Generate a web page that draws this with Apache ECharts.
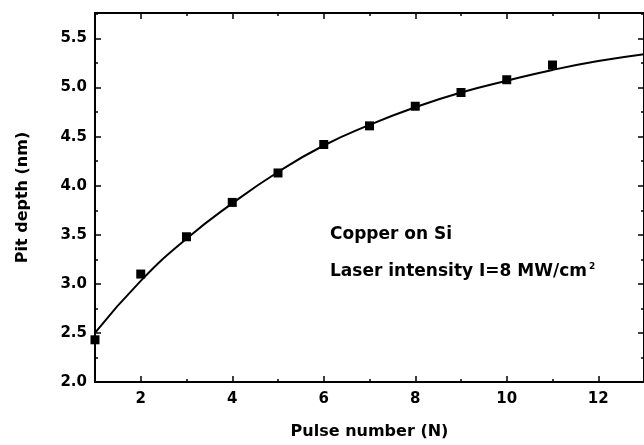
<!DOCTYPE html>
<html>
<head>
<meta charset="utf-8">
<script src="https://cdn.jsdelivr.net/npm/echarts@6/dist/echarts.min.js"></script>
<style>
  html, body { margin: 0; padding: 0; background: #fff; }
  #chart { width: 644px; height: 445px; }
</style>
</head>
<body>
<div id="chart"></div>
<script>
// measured points (pulse number vs pit depth)
var pulses = [1, 2, 3, 4, 5, 6, 7, 8, 9, 10, 11];
var depths = [2.43, 3.10, 3.48, 3.83, 4.13, 4.42, 4.61, 4.81, 4.95, 5.08, 5.23];

// fitted curve
var fitX = [1, 2, 3, 4, 5, 6, 7, 8, 9, 10, 11, 12, 13];
var fitY = [2.50, 3.03, 3.46, 3.82, 4.14, 4.41, 4.62, 4.80, 4.95, 5.07, 5.18, 5.27, 5.34];

var xMajor = [2, 4, 6, 8, 10, 12];
var xMinor = [1, 3, 5, 7, 9, 11, 13];
var yMajor = [2.0, 2.5, 3.0, 3.5, 4.0, 4.5, 5.0, 5.5];
var yMinor = [2.25, 2.75, 3.25, 3.75, 4.25, 4.75, 5.25, 5.75];

var font = 'DejaVu Sans';
var chart = echarts.init(document.getElementById('chart'));

function axis(kind, pos, ticks, len, labels, extra) {
  var a = {
    type: 'value',
    position: pos,
    min: kind === 'x' ? 1 : 2,
    max: kind === 'x' ? 13 : 5.76,
    splitLine: { show: false },
    axisLine: { show: true, onZero: false, lineStyle: { color: '#000', width: 2 } },
    axisTick: { show: true, inside: true, length: len, customValues: ticks, lineStyle: { color: '#000', width: 1.5 } },
    axisLabel: { show: false }
  };
  if (labels) {
    a.axisLabel = {
      show: true, customValues: labels,
      color: '#000', fontFamily: font, fontWeight: 'bold', fontSize: 15,
      margin: kind === 'x' ? 10 : 8,
      formatter: function (v) { return kind === 'x' ? String(v) : v.toFixed(1); }
    };
  }
  return Object.assign(a, extra || {});
}

var option = {
  backgroundColor: '#fff',
  animation: false,
  grid: { left: 95, right: -1, top: 13, bottom: 63 },
  xAxis: [
    axis('x', 'bottom', xMajor, 6, xMajor, {
      name: 'Pulse number (N)', nameLocation: 'middle', nameGap: 42,
      nameTextStyle: { color: '#000', fontFamily: font, fontWeight: 'bold', fontSize: 16 }
    }),
    axis('x', 'bottom', xMinor, 3),
    axis('x', 'top', xMajor, 6),
    axis('x', 'top', xMinor, 3)
  ],
  yAxis: [
    axis('y', 'left', yMajor, 6, yMajor, {
      name: 'Pit depth (nm)', nameLocation: 'middle', nameGap: 64,
      nameTextStyle: { color: '#000', fontFamily: font, fontWeight: 'bold', fontSize: 16 }
    }),
    axis('y', 'left', yMinor, 3),
    axis('y', 'right', yMajor, 6),
    axis('y', 'right', yMinor, 3)
  ],
  graphic: [
    {
      type: 'text', left: 330, top: 226,
      style: { text: 'Copper on Si', fill: '#000', font: 'bold 17px "DejaVu Sans"' }
    },
    {
      type: 'text', left: 330, top: 262,
      style: {
        text: 'Laser intensity I=8 MW/cm{sup|2}',
        fill: '#000', font: 'bold 17px "DejaVu Sans"',
        rich: { sup: { fontSize: 9, fontWeight: 'bold', fontFamily: font, verticalAlign: 'top', padding: [0, 0, 10, 2] } }
      }
    }
  ],
  series: [
    {
      type: 'line',
      data: fitX.map(function (x, i) { return [x, fitY[i]]; }),
      smooth: true,
      showSymbol: false,
      lineStyle: { color: '#000', width: 2 },
      clip: false
    },
    {
      type: 'scatter',
      data: pulses.map(function (x, i) { return [x, depths[i]]; }),
      symbol: 'rect',
      symbolSize: 9,
      itemStyle: { color: '#000', opacity: 1 },
      clip: false
    }
  ]
};

chart.setOption(option);
</script>
</body>
</html>
